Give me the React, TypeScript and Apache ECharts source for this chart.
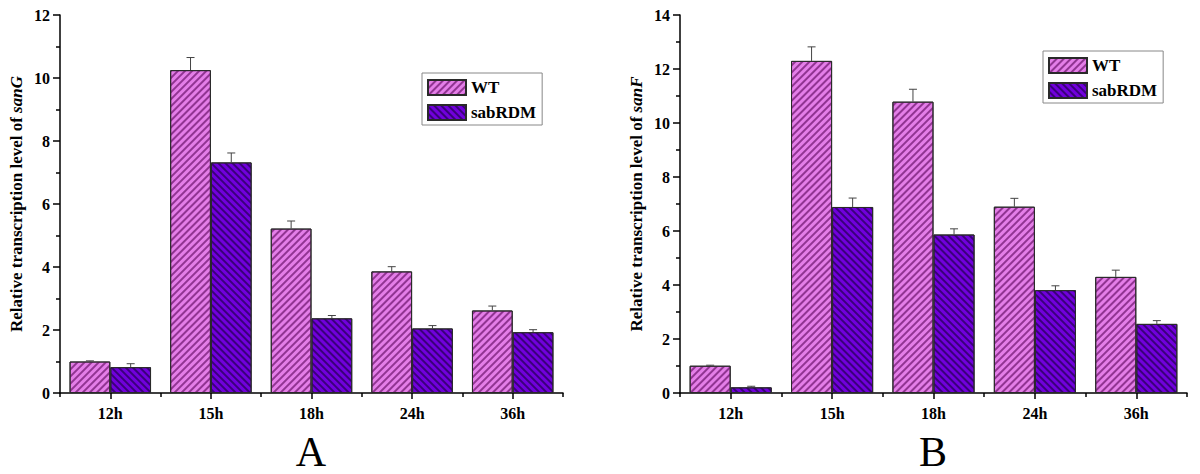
import React, { useEffect, useRef } from "react";
import * as echarts from "echarts";

const categories = ["12h", "15h", "18h", "24h", "36h"];
const seriesNames = ["WT", "sabRDM"];

// Panel A (sanG)
const wtA = [1.0, 10.25, 5.22, 3.86, 2.62];
const wtErrA = [0.02, 0.4, 0.24, 0.15, 0.14];
const rdmA = [0.82, 7.32, 2.37, 2.05, 1.93];
const rdmErrA = [0.11, 0.3, 0.09, 0.09, 0.08];

// Panel B (sanF)
const wtB = [1.01, 12.3, 10.79, 6.9, 4.3];
const wtErrB = [0.02, 0.52, 0.46, 0.31, 0.25];
const rdmB = [0.21, 6.89, 5.87, 3.81, 2.56];
const rdmErrB = [0.04, 0.33, 0.21, 0.16, 0.12];

const yMaxA = 12;
const yMaxB = 14;
const yInterval = 2;

const FONT = "'Liberation Serif', 'Times New Roman', serif";
const GAP = 0.19;

const wtStyle = {
  color: "#E47EE8",
  borderColor: "#2a2a2a",
  borderWidth: 1,
  decal: {
    symbol: "rect",
    symbolSize: 1,
    color: "rgba(110,20,110,0.7)",
    dashArrayX: [1, 0],
    dashArrayY: [1.3, 2.4],
    rotation: -Math.PI / 4,
  },
};
const rdmStyle = {
  color: "#7100DC",
  borderColor: "#2a2a2a",
  borderWidth: 1,
  decal: {
    symbol: "rect",
    symbolSize: 1,
    color: "rgba(40,0,90,0.75)",
    dashArrayX: [1, 0],
    dashArrayY: [1.3, 2.4],
    rotation: Math.PI / 4,
  },
};

function errData(wt: number[], wtE: number[], rdm: number[], rdmE: number[]) {
  const out: number[][] = [];
  categories.forEach((_, i) => {
    out.push([i, wt[i], wtE[i], 0]);
    out.push([i, rdm[i], rdmE[i], 1]);
  });
  return out;
}

const renderErr = (params: any, api: any) => {
  const i = api.value(0);
  const v = api.value(1);
  const e = api.value(2);
  const s = api.value(3);
  const base = api.coord([i, v]);
  const top = api.coord([i, v + e]);
  const band = api.size([1, 0])[0];
  const bw = (band * (1 - GAP)) / 2;
  const x = base[0] + (s === 0 ? -bw / 2 : bw / 2);
  const st = { stroke: "#444", lineWidth: 1 };
  return {
    type: "group",
    children: [
      { type: "line", shape: { x1: x, y1: base[1], x2: x, y2: top[1] }, style: st },
      { type: "line", shape: { x1: x - 4, y1: top[1], x2: x + 4, y2: top[1] }, style: st },
    ],
  };
};

function yAxisFor(grid: number, max: number, gene: string, show = true) {
  return {
    type: "value",
    gridIndex: grid,
    min: 0,
    max,
    interval: yInterval,
    show,
    name: show ? `Relative transcription level of {i|${gene}}` : "",
    nameLocation: "middle",
    nameGap: 35,
    nameTextStyle: {
      fontFamily: FONT,
      fontWeight: "bold",
      fontSize: 17,
      color: "#000",
      rich: {
        i: { fontFamily: FONT, fontWeight: "bold", fontStyle: "italic", fontSize: 17, color: "#000" },
      },
    },
    axisLine: { show: true, lineStyle: { color: "#000", width: 1.5 } },
    axisTick: { show: true, length: 7, lineStyle: { color: "#000", width: 1.5 } },
    minorTick: { show: true, splitNumber: 2, length: 4, lineStyle: { color: "#000", width: 1.5 } },
    splitLine: { show: false },
    axisLabel: { fontFamily: FONT, fontWeight: "bold", fontSize: 16, color: "#000", margin: 10 },
  };
}

function xAxisFor(grid: number) {
  return {
    type: "category",
    gridIndex: grid,
    data: categories,
    axisLine: { show: true, lineStyle: { color: "#000", width: 1.5 } },
    axisTick: { show: true, alignWithLabel: true, length: 6, lineStyle: { color: "#000", width: 1.5 } },
    axisLabel: { fontFamily: FONT, fontWeight: "bold", fontSize: 16, color: "#000", margin: 12 },
  };
}

function xBoundaryAxis(grid: number) {
  return {
    type: "category",
    gridIndex: grid,
    data: categories,
    axisLine: { show: false },
    axisTick: { show: true, length: 4, lineStyle: { color: "#000", width: 1.5 } },
    axisLabel: { show: false },
  };
}

export default function App() {
  const ref = useRef<HTMLDivElement>(null);
  useEffect(() => {
    document.body.style.margin = "0";
    if (!ref.current) return;
    const chart = echarts.init(ref.current, null, { renderer: "svg" });
    const gridA = { left: 60, top: 15, width: 503, height: 378 };
    const gridB = { left: 680, top: 15, width: 507, height: 378 };
    const legendCommon = {
      orient: "vertical",
      data: seriesNames,
      icon: "rect",
      itemWidth: 38,
      itemHeight: 15,
      itemGap: 8,
      padding: [6, 6, 4, 5],
      borderColor: "#888",
      borderWidth: 1,
      backgroundColor: "#fff",
      textStyle: { fontFamily: FONT, fontWeight: "bold", fontSize: 17, color: "#000" },
    };
    chart.setOption({
      animation: false,
      backgroundColor: "#fff",
      grid: [gridA, gridB, { ...gridA }, { ...gridB }],
      xAxis: [xAxisFor(0), xAxisFor(1), xBoundaryAxis(2), xBoundaryAxis(3)],
      yAxis: [
        yAxisFor(0, yMaxA, "sanG"),
        yAxisFor(1, yMaxB, "sanF"),
        yAxisFor(2, yMaxA, "", false),
        yAxisFor(3, yMaxB, "", false),
      ],
      legend: [
        { ...legendCommon, left: 422, top: 73 },
        { ...legendCommon, left: 1043, top: 51 },
      ],
      series: [
        { name: "WT", type: "bar", xAxisIndex: 0, yAxisIndex: 0, data: wtA, barGap: "0%", barCategoryGap: "19%", itemStyle: wtStyle },
        { name: "sabRDM", type: "bar", xAxisIndex: 0, yAxisIndex: 0, data: rdmA, barGap: "0%", barCategoryGap: "19%", itemStyle: rdmStyle },
        { name: "WT", type: "bar", xAxisIndex: 1, yAxisIndex: 1, data: wtB, barGap: "0%", barCategoryGap: "19%", itemStyle: wtStyle },
        { name: "sabRDM", type: "bar", xAxisIndex: 1, yAxisIndex: 1, data: rdmB, barGap: "0%", barCategoryGap: "19%", itemStyle: rdmStyle },
        { type: "custom", xAxisIndex: 0, yAxisIndex: 0, data: errData(wtA, wtErrA, rdmA, rdmErrA), renderItem: renderErr, z: 5, silent: true },
        { type: "custom", xAxisIndex: 1, yAxisIndex: 1, data: errData(wtB, wtErrB, rdmB, rdmErrB), renderItem: renderErr, z: 5, silent: true },
      ],
      graphic: [
        { type: "text", x: 311, y: 452, style: { text: "A", fontSize: 42, fontFamily: FONT, fill: "#000", align: "center", verticalAlign: "middle" } },
        { type: "text", x: 933, y: 452, style: { text: "B", fontSize: 42, fontFamily: FONT, fill: "#000", align: "center", verticalAlign: "middle" } },
      ],
    });
    return () => chart.dispose();
  }, []);
  return <div ref={ref} style={{ width: 1200, height: 474 }} />;
}
